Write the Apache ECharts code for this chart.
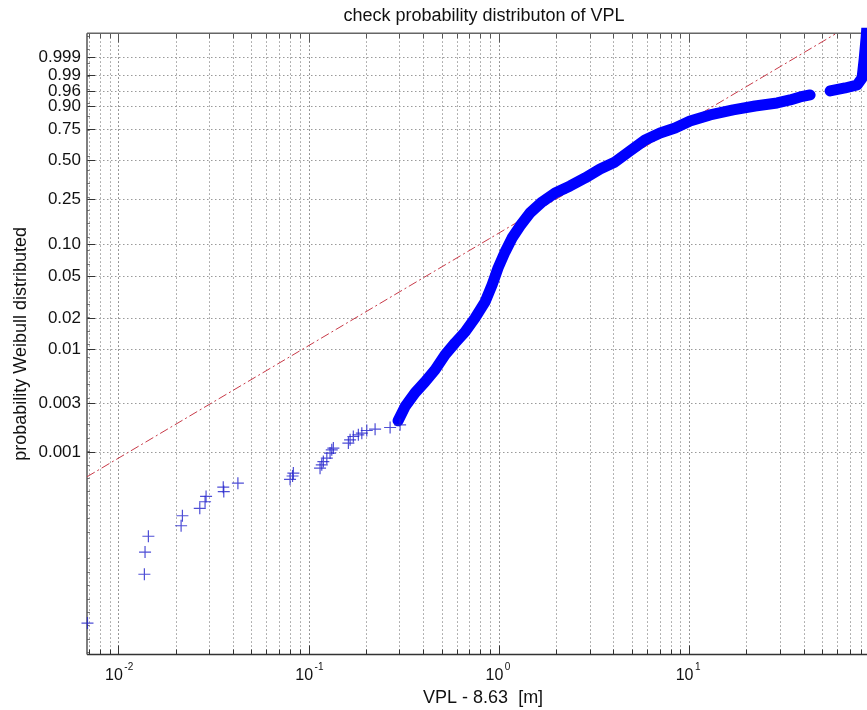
<!DOCTYPE html>
<html><head><meta charset="utf-8">
<script src="https://cdn.jsdelivr.net/npm/echarts@6/dist/echarts.min.js"></script>
<style>html,body{margin:0;padding:0;background:#fff}#c{width:867px;height:710px}</style>
</head><body><div id="c"></div>
<script>
// ---------------- data ----------------
const probTicks = [0.001, 0.003, 0.01, 0.02, 0.05, 0.10, 0.25, 0.50, 0.75, 0.90, 0.96, 0.99, 0.999];
const probTickLabels = ['0.001', '0.003', '0.01', '0.02', '0.05', '0.10', '0.25', '0.50', '0.75', '0.90', '0.96', '0.99', '0.999'];
const xGridValues = [0.007, 0.008, 0.009, 0.01, 0.02, 0.03, 0.04, 0.05, 0.06, 0.07, 0.08, 0.09,
  0.1, 0.2, 0.3, 0.4, 0.5, 0.6, 0.7, 0.8, 0.9, 1, 2, 3, 4, 5, 6, 7, 8, 9,
  10, 20, 30, 40, 50, 60, 70, 80, 90, 100];
const xDecades = [0.01, 0.1, 1, 10, 100];
const xLabelValues = [0.01, 0.1, 1, 10];
const xLabelExponents = ['-2', '-1', '0', '1'];

// sparse lower tail (individual '+' markers)
const tailX = [0.00688, 0.0137, 0.01381, 0.01438, 0.02137, 0.02171, 0.02679, 0.02856, 0.02891, 0.03582,
  0.0356, 0.0425, 0.0799, 0.08237, 0.08317, 0.1149, 0.1173, 0.1196, 0.1247, 0.1297,
  0.1324, 0.135, 0.1619, 0.1653, 0.1719, 0.1827, 0.1905, 0.2023, 0.2237, 0.2683, 0.3028];
const tailP = [2.16e-5, 6.45e-5, 1.06e-4, 1.51e-4, 1.91e-4, 2.39e-4, 2.82e-4, 3.27e-4, 3.68e-4, 4.11e-4,
  4.53e-4, 4.96e-4, 5.40e-4, 5.82e-4, 6.21e-4, 6.94e-4, 7.47e-4, 8.04e-4, 8.68e-4, 9.71e-4,
  1.046e-3, 1.086e-3, 1.215e-3, 1.308e-3, 1.408e-3, 1.462e-3, 1.519e-3, 1.610e-3, 1.661e-3, 1.722e-3, 1.829e-3];

// dense part of the sample (overlapping '+' markers form a thick band); null = gap in data
const bandX = [0.2955, 0.3217, 0.3631, 0.4098, 0.4625, 0.5222, 0.5892, 0.665, 0.7506, 0.8472,
  0.9222, 0.9915, 1.079, 1.175, 1.294, 1.46, 1.689, 1.977, 2.371, 2.843,
  3.409, 4.088, 4.9, 5.877, 7.049, 8.452, 10.13, 12.91, 17.06, 22.26,
  29.06, 34.0, 38.37, 43.32, 49.0, 55.2, 66.19, 76.53, 81.3, 83.28, 85.33, 86.3];
const bandP = [0.002001, 0.00275, 0.003745, 0.00479, 0.00626, 0.00876, 0.0114, 0.01455, 0.01986, 0.02829,
  0.04112, 0.05957, 0.08413, 0.1133, 0.1455, 0.1898, 0.2359, 0.2805, 0.3196, 0.369,
  0.4306, 0.4825, 0.5695, 0.6597, 0.7165, 0.7558, 0.8078, 0.8484, 0.8787, 0.9004,
  0.9152, 0.9285, 0.9405, 0.9477, null, 0.9603, 0.9683, 0.975, 0.98666, 0.99844, 0.999974, 0.9999993];

// fitted Weibull reference line (end points)
const refX = [0.00684, 58.6];
const refP = [5.72e-4, 0.99999];

// axis limits
const xLim = [0.00684, 100];
const pLim = [1.07e-5, 0.999992];

// ---------------- chart ----------------
const wb = p => Math.log(-Math.log(1 - p));
const wLo = wb(pLim[0]), wHi = wb(pLim[1]);
const FONT = '"Liberation Sans", Arial, Helvetica, sans-serif';

function renderFrame(params, api) {
  const ch = [];
  const pBL = api.coord([xLim[0], wLo]);
  const pTR = api.coord([xLim[1], wHi]);
  const xl = pBL[0], yb = pBL[1], xr = pTR[0], yt = pTR[1];
  // vertical grid + x ticks
  xGridValues.forEach(v => {
    const x = Math.round(api.coord([v, wLo])[0]) + 0.5;
    const major = xDecades.indexOf(v) >= 0;
    ch.push({ type: 'line', silent: true, shape: { x1: x, y1: yt, x2: x, y2: yb },
      style: { stroke: major ? '#777' : '#9a9a9a', lineWidth: 1, lineDash: [1.5, 2.5] } });
    const tl = major ? 9 : 5;
    ch.push({ type: 'line', silent: true, shape: { x1: x, y1: yb, x2: x, y2: yb - tl }, style: { stroke: '#333', lineWidth: 1 } });
    ch.push({ type: 'line', silent: true, shape: { x1: x, y1: yt, x2: x, y2: yt + tl }, style: { stroke: '#555', lineWidth: 1 } });
  });
  // horizontal grid + y ticks + labels
  probTicks.forEach((p, i) => {
    const y = Math.round(api.coord([xLim[0], wb(p)])[1]) + 0.5;
    ch.push({ type: 'line', silent: true, shape: { x1: xl, y1: y, x2: xr, y2: y },
      style: { stroke: '#9a9a9a', lineWidth: 1, lineDash: [1.5, 2.5] } });
    ch.push({ type: 'line', silent: true, shape: { x1: xl, y1: y, x2: xl + 8, y2: y }, style: { stroke: '#333', lineWidth: 1 } });
    ch.push({ type: 'text', silent: true, style: { text: probTickLabels[i], x: xl - 6, y: y,
      align: 'right', verticalAlign: 'middle', textAlign: 'right', textVerticalAlign: 'middle',
      fill: '#111', font: '17px ' + FONT } });
  });
  // x decade labels 10^n
  xLabelValues.forEach((v, i) => {
    const x = api.coord([v, wLo])[0];
    ch.push({ type: 'text', silent: true, style: { text: '10', x: x + 4.5, y: yb + 21,
      align: 'right', verticalAlign: 'middle', textAlign: 'right', textVerticalAlign: 'middle',
      fill: '#111', font: '16px ' + FONT } });
    ch.push({ type: 'text', silent: true, style: { text: xLabelExponents[i], x: x + 6, y: yb + 13,
      align: 'left', verticalAlign: 'middle', textAlign: 'left', textVerticalAlign: 'middle',
      fill: '#111', font: '10px ' + FONT } });
  });
  // frame
  ch.push({ type: 'line', silent: true, shape: { x1: xl, y1: yb, x2: xr, y2: yb }, style: { stroke: '#333', lineWidth: 1.5 } });
  ch.push({ type: 'line', silent: true, shape: { x1: xl, y1: yt, x2: xr, y2: yt }, style: { stroke: '#666', lineWidth: 1.5 } });
  ch.push({ type: 'line', silent: true, shape: { x1: xl, y1: yt, x2: xl, y2: yb }, style: { stroke: '#555', lineWidth: 1.5 } });
  return { type: 'group', children: ch };
}

const plus = 'path://M5.4,0H6.6V5.4H12V6.6H6.6V12H5.4V6.6H0V5.4H5.4Z';

const chart = echarts.init(document.getElementById('c'), null, { renderer: 'canvas' });
chart.setOption({
  animation: false,
  backgroundColor: '#fff',
  title: {
    text: 'check probability distributon of VPL', left: 479, top: 2, textAlign: 'center',
    textStyle: { fontSize: 18, fontWeight: 'normal', color: '#111', fontFamily: FONT }
  },
  grid: { left: 87, top: 33.3, right: -12.2, bottom: 55.5, containLabel: false, outerBoundsMode: 'none' },
  xAxis: {
    type: 'log', logBase: 10, min: xLim[0], max: xLim[1],
    axisLine: { show: false }, axisTick: { show: false }, axisLabel: { show: false }, splitLine: { show: false },
    name: 'VPL - 8.63  [m]', nameLocation: 'middle', nameGap: 35,
    nameTextStyle: { fontSize: 18, color: '#111', fontFamily: FONT }
  },
  yAxis: {
    type: 'value', min: wLo, max: wHi,
    axisLine: { show: false }, axisTick: { show: false, inside: true }, axisLabel: { show: false }, splitLine: { show: false },
    minorTick: { show: true, splitNumber: 10, length: 3, lineStyle: { color: '#777' } },
    name: 'probability Weibull distributed', nameLocation: 'middle', nameGap: 57,
    nameTextStyle: { fontSize: 18, color: '#111', fontFamily: FONT }
  },
  series: [
    { type: 'custom', renderItem: renderFrame, data: [[1, 0]], z: 1, silent: true },
    {
      type: 'line', z: 3, showSymbol: false, silent: true,
      data: refX.map((x, i) => [x, wb(refP[i])]),
      lineStyle: { color: '#c83a48', width: 1, type: [9, 3, 2, 3] }
    },
    {
      type: 'scatter', z: 4, silent: true, symbol: plus, symbolSize: 12,
      data: tailX.map((x, i) => [x, wb(tailP[i])]),
      itemStyle: { color: '#2222cc' }
    },
    {
      type: 'line', z: 4, showSymbol: false, silent: true, connectNulls: false,
      data: bandX.map((x, i) => bandP[i] == null ? [x, '-'] : [x, wb(bandP[i])]),
      lineStyle: { color: '#0000ff', width: 11, cap: 'round', join: 'round' }
    }
  ]
});
</script></body></html>
